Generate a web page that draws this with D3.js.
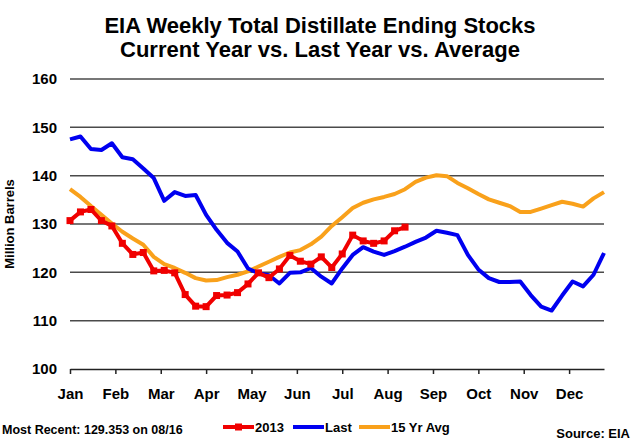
<!DOCTYPE html>
<html>
<head>
<meta charset="utf-8">
<script src="https://cdn.jsdelivr.net/npm/d3@7"></script>
<style>
    body { margin: 0; background: #fff; }
    text { font-family: Arial, "Liberation Sans", sans-serif; fill: #000; }
</style>
</head>
<body>
<div id="chart"></div>
<script>

// weekly ending stocks, million barrels
var current2013 = [130.7, 132.5, 133.0, 130.7, 129.6, 126.0, 123.7, 124.1, 120.3, 120.4,
    119.9, 115.4, 113.0, 112.9, 115.2, 115.3, 115.8, 117.6, 119.9, 118.9,
    120.7, 123.5, 122.3, 121.7, 123.2, 121.0, 123.8, 127.7, 126.5, 126.0,
    126.5, 128.6, 129.353];

var lastYear = [147.5, 148.1, 145.5, 145.3, 146.7, 143.8, 143.4, 141.5, 139.5, 134.8,
    136.6, 135.8, 136.0, 131.9, 128.8, 126.1, 124.3, 120.8, 119.8, 119.4,
    117.7, 119.9, 120.0, 120.9, 119.1, 117.7, 120.8, 123.6, 125.2, 124.3,
    123.6, 124.4, 125.3, 126.3, 127.2, 128.6, 128.2, 127.7, 123.6, 120.6,
    118.8, 118.0, 118.0, 118.1, 115.3, 112.9, 112.1, 115.2, 118.1, 117.1,
    119.5, 124.0];

var avg15yr = [137.2, 135.6, 133.7, 131.9, 130.1, 128.4, 127.0, 125.7, 123.2, 121.7,
    120.9, 119.9, 118.8, 118.3, 118.4, 119.0, 119.5, 120.2, 121.2, 122.2,
    123.2, 124.1, 124.6, 125.8, 127.4, 129.6, 131.4, 133.3, 134.4, 135.1,
    135.6, 136.2, 137.2, 138.7, 139.6, 140.1, 139.9, 138.5, 137.4, 136.2,
    135.1, 134.4, 133.7, 132.5, 132.5, 133.2, 133.9, 134.6, 134.2, 133.6,
    135.3, 136.6];

var months = ["Jan", "Feb", "Mar", "Apr", "May", "Jun", "Jul", "Aug", "Sep", "Oct", "Nov", "Dec"];
var yTicks = [100, 110, 120, 130, 140, 150, 160];

var width = 633,
    height = 441;

var svg = d3.select("#chart").append("svg")
    .attr("width", width)
    .attr("height", height);

var x = d3.scaleLinear()
    .domain([0, 51])
    .range([70, 604]);

var y = d3.scaleLinear()
    .domain([100, 160])
    .range([369, 79]);

// title
svg.append("text")
    .attr("x", 320)
    .attr("y", 33)
    .attr("text-anchor", "middle")
    .style("font-size", "22px")
    .style("font-weight", "bold")
    .text("EIA Weekly Total Distillate Ending Stocks");

svg.append("text")
    .attr("x", 320)
    .attr("y", 57)
    .attr("text-anchor", "middle")
    .style("font-size", "22px")
    .style("font-weight", "bold")
    .text("Current Year vs. Last Year vs. Average");

// grid lines
svg.selectAll(".grid")
    .data(yTicks.filter(function(d) { return d > 100; }))
    .enter().append("line")
    .attr("class", "grid")
    .attr("x1", x(0))
    .attr("x2", x(51))
    .attr("y1", function(d) { return y(d); })
    .attr("y2", function(d) { return y(d); })
    .style("stroke", "#4a4a4a")
    .style("stroke-width", 1.5);

// y axis labels
var yAxis = d3.axisLeft(y)
    .tickValues(yTicks)
    .tickSize(0)
    .tickPadding(13);

svg.append("g")
    .attr("transform", "translate(" + x(0) + ",0)")
    .call(yAxis)
    .call(function(g) { g.select(".domain").remove(); })
    .selectAll("text")
    .style("font-size", "15px")
    .style("font-weight", "bold");

svg.append("text")
    .attr("transform", "translate(14," + y(130) + ") rotate(-90)")
    .attr("text-anchor", "middle")
    .style("font-size", "13px")
    .style("font-weight", "bold")
    .text("Million Barrels");

// x axis, month ticks evenly spread across the 52 weeks
var xAxis = d3.axisBottom(x)
    .tickValues(months.map(function(m, i) { return i * 52 / 12; }))
    .tickFormat(function(d, i) { return months[i]; })
    .tickSize(5)
    .tickPadding(14)
    .tickSizeOuter(0);

var xg = svg.append("g")
    .attr("transform", "translate(0," + y(100) + ")")
    .call(xAxis);

xg.select(".domain")
    .style("stroke", "#222")
    .style("stroke-width", 1.5);

xg.selectAll(".tick line")
    .style("stroke", "#222")
    .style("stroke-width", 1.5);

xg.selectAll("text")
    .style("font-size", "15px")
    .style("font-weight", "bold");

// series
var line = d3.line()
    .x(function(d, i) { return x(i); })
    .y(function(d) { return y(d); });

svg.append("path")
    .datum(avg15yr)
    .attr("d", line)
    .style("fill", "none")
    .style("stroke", "#f9a11b")
    .style("stroke-width", 4)
    .style("stroke-linejoin", "round");

svg.append("path")
    .datum(lastYear)
    .attr("d", line)
    .style("fill", "none")
    .style("stroke", "#0000f0")
    .style("stroke-width", 4)
    .style("stroke-linejoin", "round");

svg.append("path")
    .datum(current2013)
    .attr("d", line)
    .style("fill", "none")
    .style("stroke", "#f00000")
    .style("stroke-width", 4);

svg.selectAll(".points")
    .data(current2013)
    .enter().append("rect")
    .attr("class", "points")
    .attr("x", function(d, i) { return x(i) - 3.5; })
    .attr("y", function(d) { return y(d) - 3.5; })
    .attr("width", 7)
    .attr("height", 7)
    .style("fill", "#f00000");

// footer
svg.append("text")
    .attr("x", 2)
    .attr("y", 434)
    .style("font-size", "12.5px")
    .style("font-weight", "bold")
    .text("Most Recent: " + d3.format(".3f")(current2013[current2013.length - 1]) + " on 08/16");

svg.append("text")
    .attr("x", 630)
    .attr("y", 438)
    .attr("text-anchor", "end")
    .style("font-size", "13px")
    .style("font-weight", "bold")
    .text("Source: EIA");

var legendItems = [
    { name: "2013", color: "#f00000", x: 223, marker: true },
    { name: "Last", color: "#0000f0", x: 293, marker: false },
    { name: "15 Yr Avg", color: "#f9a11b", x: 359, marker: false }
];

var legend = svg.selectAll(".legend")
    .data(legendItems)
    .enter().append("g")
    .attr("class", "legend")
    .attr("transform", function(d) { return "translate(" + d.x + ",427)"; });

legend.append("line")
    .attr("x1", 0)
    .attr("x2", 31)
    .style("stroke", function(d) { return d.color; })
    .style("stroke-width", 4);

legend.filter(function(d) { return d.marker; })
    .append("rect")
    .attr("x", 12)
    .attr("y", -3.5)
    .attr("width", 7)
    .attr("height", 7)
    .style("fill", function(d) { return d.color; });

legend.append("text")
    .attr("x", 32)
    .attr("y", 5)
    .style("font-size", "13px")
    .style("font-weight", "bold")
    .text(function(d) { return d.name; });

</script>
</body>
</html>
